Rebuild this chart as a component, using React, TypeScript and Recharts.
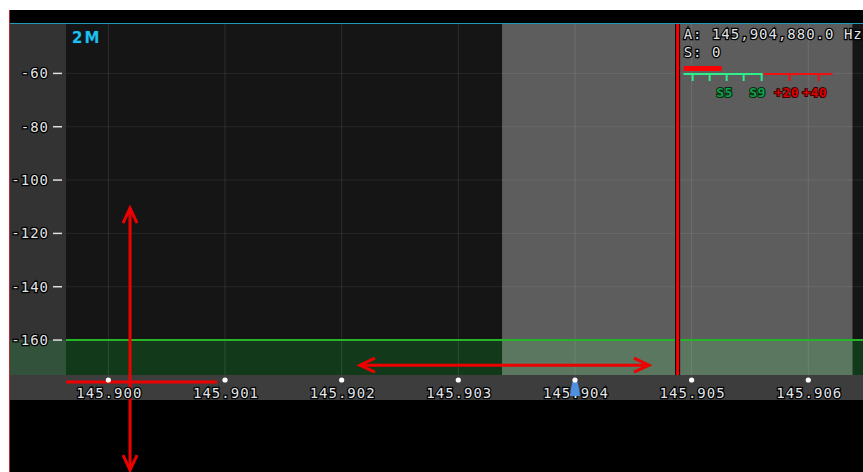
import React from 'react';
import { ComposedChart, XAxis, YAxis, ReferenceArea, ReferenceLine } from 'recharts';

// ---- data ----
const FREQ_TICKS = [145.9, 145.901, 145.902, 145.903, 145.904, 145.905, 145.906];
const FREQ_DOMAIN: [number, number] = [145.899637, 145.906469];
const DB_TICKS = [-60, -80, -100, -120, -140, -160];
const DB_DOMAIN: [number, number] = [-173.1, -41.1];
const PASSBAND: [number, number] = [145.903375, 145.906379];
const VFO_FREQ = 145.90488;
const MARKER_FREQ = 145.904;
const SQUELCH_DB = -160;
const BAND_LABEL = '2M';
const S_VALUE = 0;
const S_LABELS = ['S5', 'S9', '+20', '+40'];
const V_ARROW = { f1: 145.900186, d1: -110.5, f2: 145.900186, d2: -208.75 };
const H_ARROW = { f1: 145.902157, d1: -169.4, f2: 145.904634, d2: -169.4 };
const STRIP_LINE = { f1: 145.899637, d1: -175.75, f2: 145.900932, d2: -175.75 };

// ---- layout ----
const OX = 10;
const OY = 10;
const W = 853;
const H = 462;
const MARGIN = { top: 13, right: 0, left: 0, bottom: 72 };
const Y_W = 56;
const X_H = 25;
const PLOT_L = OX + Y_W;
const PLOT_T = OY + MARGIN.top;
const PLOT_W = W - Y_W - MARGIN.right;
const PLOT_H = H - MARGIN.top - MARGIN.bottom - X_H;

const fx = (f: number) => PLOT_L + ((f - FREQ_DOMAIN[0]) / (FREQ_DOMAIN[1] - FREQ_DOMAIN[0])) * PLOT_W;
const fy = (d: number) => PLOT_T + ((DB_DOMAIN[1] - d) / (DB_DOMAIN[1] - DB_DOMAIN[0])) * PLOT_H;

const data = FREQ_TICKS.map((f) => ({ freq: f }));

const textStyle = {
  fontFamily: 'DejaVu Sans Mono, monospace',
  fontSize: 14,
  letterSpacing: 1,
  fill: '#e2e6ea',
  stroke: '#000',
  strokeWidth: 2.5,
  paintOrder: 'stroke' as const,
};

const XTick = (props: any) => {
  const { x, y, payload } = props;
  const isMarker = Math.abs(payload.value - MARKER_FREQ) < 1e-7;
  return (
    <g>
      <text x={x + 1} y={y + 23} textAnchor="middle" style={textStyle}>
        {payload.value.toFixed(3)}
      </text>
      {isMarker && (
        <path
          d={`M${x - 5},${y + 21} Q${x - 4},${y + 12} ${x - 2.5},${y + 7} Q${x},${y + 4} ${x + 2.5},${y + 7} Q${x + 4},${y + 12} ${x + 5},${y + 21} Z`}
          fill="#4f8fe0"
        />
      )}
      <circle cx={x} cy={y + 5} r={2.6} fill="#ffffff" />
    </g>
  );
};

const YTick = (props: any) => {
  const { x, y, payload } = props;
  return (
    <g>
      <text x={x - 17} y={y + 5} textAnchor="end" style={textStyle}>
        {payload.value}
      </text>
      <line x1={x - 13} x2={x - 4} y1={y} y2={y} stroke="#e0e0e0" strokeWidth={1.5} />
    </g>
  );
};

const vfoShape = (p: any) => (
  <g>
    <line x1={p.x1} y1={p.y1} x2={p.x2} y2={p.y2} stroke="#000" strokeWidth={5} />
    <line x1={p.x1} y1={p.y1} x2={p.x2} y2={p.y2} stroke="#ff0000" strokeWidth={3} />
  </g>
);

const head = (tx: number, ty: number, fromX: number, fromY: number) => {
  const dx = fromX - tx;
  const dy = fromY - ty;
  const len = Math.sqrt(dx * dx + dy * dy) || 1;
  const ux = dx / len;
  const uy = dy / len;
  const L = 15;
  const Wd = 7;
  const bx = tx + ux * L;
  const by = ty + uy * L;
  return `M${bx - uy * Wd},${by + ux * Wd} L${tx},${ty} L${bx + uy * Wd},${by - ux * Wd}`;
};

const doubleArrow = (p: any) => (
  <g>
    <line x1={p.x1} y1={p.y1} x2={p.x2} y2={p.y2} stroke="#ee0000" strokeWidth={3} />
    <path d={head(p.x1, p.y1, p.x2, p.y2)} stroke="#ee0000" strokeWidth={3} fill="none" />
    <path d={head(p.x2, p.y2, p.x1, p.y1)} stroke="#ee0000" strokeWidth={3} fill="none" />
  </g>
);

const plainLine = (p: any) => (
  <line x1={p.x1} y1={p.y1} x2={p.x2} y2={p.y2} stroke="#ee0000" strokeWidth={3} />
);

function formatHz(f: number) {
  const hz = Math.round(f * 1e6);
  return hz.toLocaleString('en-US') + '.0 Hz';
}

export default function App() {
  const vx = fx(VFO_FREQ);
  const sx = vx + 6;
  const sq = fy(SQUELCH_DB);
  const abs = (o: any) => ({ position: 'absolute' as const, ...o });
  const greenTicks = [9, 26, 43, 60, 78];
  const redTicks = [106, 135];
  const sLabelX = [41, 74, 103, 131];
  return (
    <div style={abs({ left: 0, top: 0, width: 863, height: 472, background: '#fff', overflow: 'hidden' })}>
      <div style={abs({ left: OX - 1, top: OY, width: 1, height: H, background: '#c0282e' })} />
      <div style={abs({ left: OX, top: OY, width: W, height: H, background: '#000' })} />
      <div style={abs({ left: OX, top: PLOT_T, width: Y_W, height: PLOT_H, background: '#333333' })} />
      <div style={abs({ left: OX, top: sq, width: Y_W, height: PLOT_T + PLOT_H - sq, background: '#33523b' })} />
      <div style={abs({ left: OX, top: PLOT_T + PLOT_H, width: W, height: X_H, background: '#3d3d3d' })} />
      <div style={abs({ left: OX, top: OY })}>
        <ComposedChart width={W} height={H} data={data} margin={MARGIN}>
          <XAxis
            dataKey="freq"
            type="number"
            domain={FREQ_DOMAIN}
            ticks={FREQ_TICKS}
            allowDataOverflow
            height={X_H}
            axisLine={false}
            tickLine={false}
            tickSize={0}
            tickMargin={0}
            tick={<XTick />}
            interval={0}
          />
          <YAxis
            type="number"
            domain={DB_DOMAIN}
            ticks={DB_TICKS}
            allowDataOverflow
            width={Y_W}
            axisLine={false}
            tickLine={false}
            tickSize={0}
            tickMargin={0}
            tick={<YTick />}
            interval={0}
          />
          <ReferenceArea x1={FREQ_DOMAIN[0]} x2={FREQ_DOMAIN[1]} y1={DB_DOMAIN[0]} y2={DB_DOMAIN[1]} fill="#151515" fillOpacity={1} stroke="none" ifOverflow="hidden" />
          <ReferenceArea x1={FREQ_DOMAIN[0]} x2={FREQ_DOMAIN[1]} y1={DB_DOMAIN[0]} y2={SQUELCH_DB} fill="#123a1a" fillOpacity={1} stroke="none" ifOverflow="hidden" />
          <ReferenceArea x1={PASSBAND[0]} x2={PASSBAND[1]} y1={DB_DOMAIN[0]} y2={DB_DOMAIN[1]} fill="#ffffff" fillOpacity={0.31} stroke="none" ifOverflow="hidden" />
          {FREQ_TICKS.map((f) => (
            <ReferenceLine key={'vx' + f} x={f} stroke="#ffffff" strokeOpacity={0.1} strokeWidth={1} ifOverflow="hidden" />
          ))}
          {DB_TICKS.map((d) => (
            <ReferenceLine key={'hy' + d} y={d} stroke="#ffffff" strokeOpacity={0.08} strokeWidth={1} ifOverflow="hidden" />
          ))}
          <ReferenceLine y={SQUELCH_DB} stroke="#26b526" strokeWidth={2} ifOverflow="hidden" />
          <ReferenceLine x={VFO_FREQ} shape={vfoShape} ifOverflow="hidden" />
          <ReferenceLine segment={[{ x: H_ARROW.f1, y: H_ARROW.d1 }, { x: H_ARROW.f2, y: H_ARROW.d2 }]} shape={doubleArrow} ifOverflow="visible" />
          <ReferenceLine segment={[{ x: V_ARROW.f1, y: V_ARROW.d1 }, { x: V_ARROW.f2, y: V_ARROW.d2 }]} shape={doubleArrow} ifOverflow="visible" />
          <ReferenceLine segment={[{ x: STRIP_LINE.f1, y: STRIP_LINE.d1 }, { x: STRIP_LINE.f2, y: STRIP_LINE.d2 }]} shape={plainLine} ifOverflow="visible" />
        </ComposedChart>
      </div>
      <div style={abs({ left: OX, top: PLOT_T, width: W, height: 1, background: '#1e9ab3' })} />
      <svg style={abs({ left: 0, top: 0, pointerEvents: 'none' })} width={863} height={472}>
        <text x={72} y={43} style={{ fontFamily: 'DejaVu Sans, sans-serif', fontWeight: 'bold', fontSize: 15, letterSpacing: 2, fill: '#1ec0ee', stroke: '#0a2030', strokeWidth: 1.5, paintOrder: 'stroke' }}>
          {BAND_LABEL}
        </text>
        <text x={sx} y={39} style={textStyle}>{'A: ' + formatHz(VFO_FREQ)}</text>
        <text x={sx} y={57} style={textStyle}>{'S: ' + S_VALUE}</text>
        <rect x={sx} y={66} width={38} height={5} fill="#ff0000" />
        <line x1={sx} x2={sx + 79} y1={74} y2={74} stroke="#2ef08a" strokeWidth={2} />
        {greenTicks.map((t) => (
          <line key={'g' + t} x1={sx + t} x2={sx + t} y1={74} y2={81} stroke="#2ef08a" strokeWidth={2} />
        ))}
        <line x1={sx + 80} x2={sx + 149} y1={74} y2={74} stroke="#ee1111" strokeWidth={2} />
        {redTicks.map((t) => (
          <line key={'r' + t} x1={sx + t} x2={sx + t} y1={74} y2={81} stroke="#ee1111" strokeWidth={2} />
        ))}
        {S_LABELS.map((l, i) => (
          <text
            key={l}
            x={sx + sLabelX[i]}
            y={97}
            textAnchor="middle"
            style={{
              fontFamily: 'DejaVu Sans Mono, monospace',
              fontWeight: 'bold',
              fontSize: 13,
              letterSpacing: 0.5,
              fill: i < 2 ? '#12a048' : '#dd0000',
              stroke: i < 2 ? '#062a12' : '#3a0000',
              strokeWidth: 2,
              paintOrder: 'stroke',
            }}
          >
            {l}
          </text>
        ))}
      </svg>
    </div>
  );
}
